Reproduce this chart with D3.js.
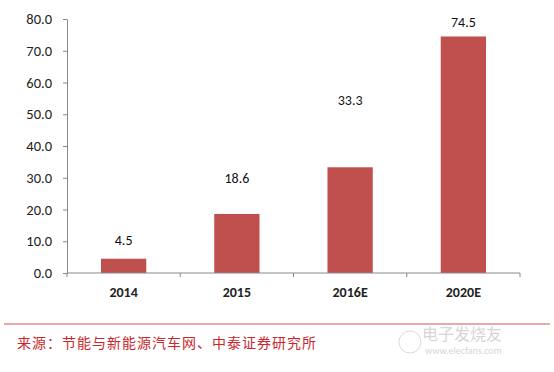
<!DOCTYPE html>
<html>
<head>
<meta charset="utf-8">
<script src="https://cdn.jsdelivr.net/npm/d3@7"></script>
<style>
body { margin: 0; background: #fff; }
svg { display: block; font-family: Calibri, Carlito, "Liberation Sans", "DejaVu Sans", sans-serif; }
</style>
</head>
<body>
<svg></svg>
<script>
// data
var years = ["2014", "2015", "2016E", "2020E"];
var values = [4.5, 18.6, 33.3, 74.5];
// where each value label sits (in axis units), as placed in the original
var labelAt = [10.4, 29.9, 54.5, 79.0];
var yTicks = [0, 10, 20, 30, 40, 50, 60, 70, 80];
var source = "来源：节能与新能源汽车网、中泰证券研究所";

var width = 554, height = 372;
var plotLeft = 67, plotRight = 520, plotTop = 19, plotBottom = 273;

var svg = d3.select("svg")
	.attr("width", width)
	.attr("height", height);

var x = d3.scaleBand()
	.domain(years)
	.range([plotLeft, plotRight])
	.paddingInner(0.6)
	.paddingOuter(0.3);

var y = d3.scaleLinear()
	.domain([0, 80])
	.range([plotBottom, plotTop]);

//Bars
svg.selectAll("rect.bar")
	.data(values)
	.enter()
	.append("rect")
	.attr("class", "bar")
	.attr("x", function(d, i) { return x(years[i]); })
	.attr("y", function(d) { return y(d); })
	.attr("width", x.bandwidth())
	.attr("height", function(d) { return plotBottom - y(d); })
	.attr("fill", "#c0504d");

svg.selectAll("text.val")
	.data(values)
	.enter()
	.append("text")
	.attr("class", "val")
	.attr("x", function(d, i) { return x(years[i]) + x.bandwidth() / 2; })
	.attr("y", function(d, i) { return y(labelAt[i]); })
	.attr("dy", "0.35em")
	.attr("text-anchor", "middle")
	.attr("font-size", 14)
	.attr("fill", "#111")
	.text(function(d) { return d.toFixed(1); });

//Axis
var y_axis = d3.axisLeft(y)
	.tickValues(yTicks)
	.tickFormat(d3.format(".1f"))
	.tickSize(4)
	.tickPadding(11)
	.tickSizeOuter(0);

var gy = svg.append("g")
	.attr("transform", "translate(" + plotLeft + ",0)")
	.call(y_axis);
gy.select(".domain").attr("stroke", "#888");
gy.selectAll(".tick line").attr("stroke", "#888");
gy.selectAll(".tick text")
	.attr("font-size", 14.5)
	.attr("fill", "#222")
	.style("font-family", "Calibri, Carlito, 'Liberation Sans', sans-serif");

// category axis: ticks on band boundaries
var bounds = [plotLeft].concat(years.map(function(d) { return x(d) + x.bandwidth() / 2 + x.step() / 2; }));
var gx = svg.append("g")
	.attr("transform", "translate(0," + plotBottom + ")");
gx.append("line")
	.attr("x1", plotLeft).attr("x2", plotRight)
	.attr("stroke", "#888");
gx.selectAll("line.tk")
	.data(bounds)
	.enter()
	.append("line")
	.attr("class", "tk")
	.attr("x1", function(d) { return d; })
	.attr("x2", function(d) { return d; })
	.attr("y1", 0).attr("y2", 4)
	.attr("stroke", "#888");
gx.selectAll("text")
	.data(years)
	.enter()
	.append("text")
	.attr("x", function(d) { return x(d) + x.bandwidth() / 2; })
	.attr("y", 19)
	.attr("dy", "0.35em")
	.attr("text-anchor", "middle")
	.attr("font-size", 14)
	.attr("font-weight", "bold")
	.attr("fill", "#222")
	.text(function(d) { return d; });

// footer
svg.append("line")
	.attr("x1", 4).attr("x2", 550)
	.attr("y1", 324).attr("y2", 324)
	.attr("stroke", "#d9534f")
	.attr("stroke-width", 1.2);

svg.append("text")
	.attr("x", 17)
	.attr("y", 343)
	.attr("dy", "0.35em")
	.attr("font-size", 14)
	.attr("letter-spacing", 1)
	.attr("fill", "#c8282d")
	.style("font-family", "'Noto Sans CJK SC', sans-serif")
	.text(source);

// watermark
var wm = svg.append("g").attr("opacity", 0.35);
wm.append("circle").attr("cx", 410).attr("cy", 342).attr("r", 11)
	.attr("fill", "none").attr("stroke", "#999");
wm.append("text").attr("x", 422).attr("y", 340)
	.attr("font-size", 16).attr("fill", "#888")
	.style("font-family", "'Noto Sans CJK SC', sans-serif")
	.text("电子发烧友");
wm.append("text").attr("x", 425).attr("y", 354)
	.attr("font-size", 10).attr("fill", "#888")
	.text("www.elecfans.com");
</script>
</body>
</html>
